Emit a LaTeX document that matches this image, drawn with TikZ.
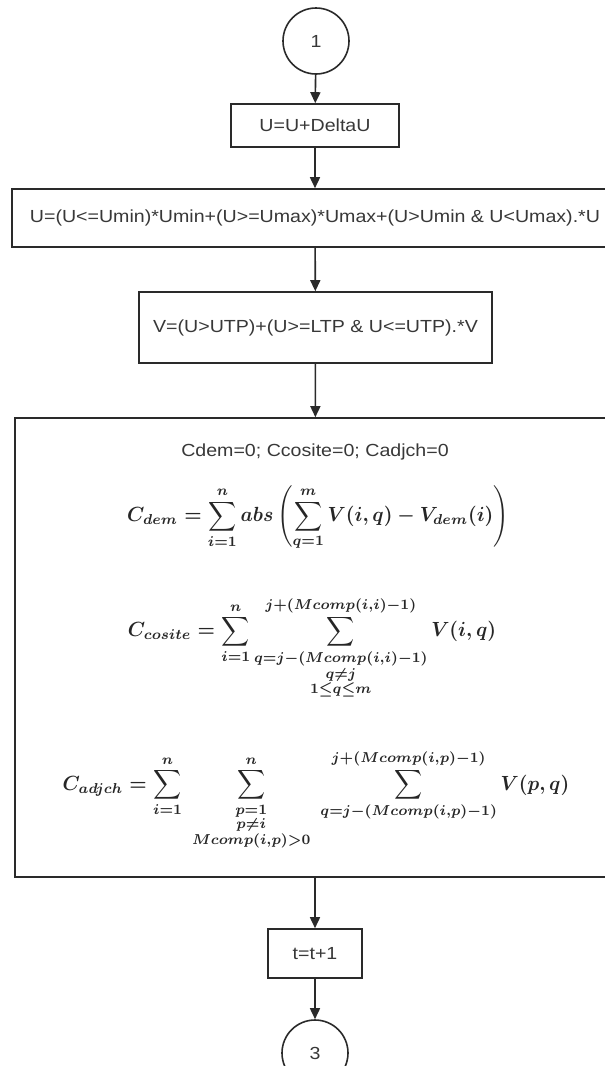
\documentclass[tikz,border=0pt]{standalone}
\usepackage{amsmath}
\usepackage[no-math]{fontspec}
\setmainfont[FakeStretch=1.12]{Liberation Sans}
\usetikzlibrary{arrows.meta}
\definecolor{linec}{HTML}{2A2A2A}
\definecolor{textc}{HTML}{383838}
\newcommand{\fml}[1]{\scalebox{1.95}[2.05]{\boldmath$\displaystyle #1$}}
\begin{document}
\begin{tikzpicture}[x=1pt,y=-1pt,
  stepbox/.style={draw=linec, line width=1.6pt, rectangle, inner sep=0pt, text=textc, font=\fontsize{17.5}{20}\selectfont},
  conn/.style={circle, draw=linec, line width=1.6pt, inner sep=0pt, minimum size=66pt, text=textc, font=\fontsize{17.5}{20}\selectfont},
  txt/.style={inner sep=0pt, text=textc, font=\fontsize{17.5}{20}\selectfont},
  frm/.style={inner sep=0pt, text=black!85},
  arr/.style={draw=linec, line width=1.6pt, -{Triangle[length=11pt,width=10pt]}}]
\useasboundingbox (0,0) rectangle (605,1066);
\clip (0,0) rectangle (605,1066);
\fill[white] (0,0) rectangle (605,1066);
\node[conn] (c1) at (316,41) {1};
\node[stepbox, minimum width=168pt, minimum height=43pt] (b1) at (315,125.5) {U=U+DeltaU};
\node[stepbox, minimum width=606pt, minimum height=58pt] (b2) at (315,218) {U=(U<=Umin)*Umin+(U>=Umax)*Umax+(U>Umin \& U<Umax).*U};
\node[stepbox, minimum width=353pt, minimum height=71pt] (b3) at (315.5,327.5) {V=(U>UTP)+(U>=LTP \& U<=UTP).*V};
\node[stepbox, minimum width=600pt, minimum height=459pt] (b4) at (315,647.5) {};
\node[txt] (init) at (315,452) {Cdem=0; Ccosite=0; Cadjch=0};
\node[frm] (fdem) at (318,518) {\fml{C_{dem}=\sum_{i=1}^{n} abs\left(\sum_{q=1}^{m} V(i,q)-V_{dem}(i)\right)}};
\node[frm] (fcos) at (312,648) {\fml{C_{cosite}=\sum_{i=1}^{n}\sum_{\substack{q=j-(Mcomp(i,i)-1)\\ q\neq j\\ 1\le q\le m}}^{j+(Mcomp(i,i)-1)} V(i,q)}};
\node[frm] (fadj) at (316,800) {\fml{C_{adjch}=\sum_{i=1}^{n}\;\sum_{\substack{p=1\\ p\neq i\\ Mcomp(i,p)>0}}^{n}\;\sum_{q=j-(Mcomp(i,p)-1)}^{j+(Mcomp(i,p)-1)} V(p,q)}};
\node[stepbox, minimum width=94pt, minimum height=49pt] (b5) at (315,953.5) {t=t+1};
\node[conn] (c3) at (315,1053) {3};
\draw[arr] (c1) -- (b1);
\draw[arr] (b1) -- (b2);
\draw[arr] (b2) -- (b3);
\draw[arr] (b3) -- (b4);
\draw[arr] (b4) -- (b5);
\draw[arr] (b5) -- (c3);
\end{tikzpicture}
\end{document}
